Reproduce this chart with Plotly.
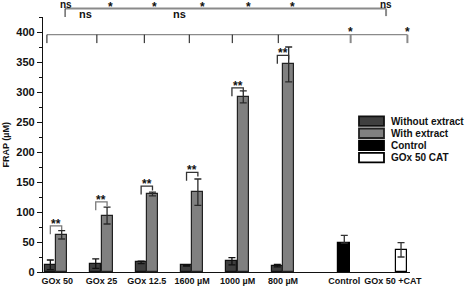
import plotly.graph_objects as go

# ---------------- data ----------------
groups = ["GOx 50", "GOx 25", "GOx 12.5", "1600 µM", "1000 µM", "800 µM"]
group_pos = [0, 1, 2, 3, 4, 5]
without_vals = [12, 14, 16, 11, 18, 10.5]
without_err = [8, 8, 2, 1, 6, 2]
with_vals = [62, 94, 130, 133, 292, 346]
with_err = [7, 14, 3, 22, 10, 29]
control_pos = [6.35]
control_vals = [48]
control_err = [13]
cat_pos = [7.6]
cat_vals = [37]
cat_err = [12]
tick_pos = [0.03, 1, 2, 3, 4, 5, 6.35, 7.42]
tick_text = ["GOx 50", "GOx 25", "GOx 12.5", "1600 µM", "1000 µM", "800 µM",
             "Control", "GOx 50 +CAT"]
legend_names = ["Without extract", "With extract", "Control", "GOx 50 CAT"]

# pairwise (without vs with) significance bracket heights
pair_sig_y = [77, 117, 143, 166, 307, 361]
pair_sig_colors = ["#7a7a7a", "#7a7a7a", "#333333", "#333333", "#333333", "#333333"]

# top comparison lines
lineA_y = 439
lineA_x = [0.2, 7.27]
lineA_labels = ["ns", "*", "*", "*", "*", "*", "ns"]
lineA_label_x = [0.23, 1.19, 2.16, 3.22, 4.23, 5.2, 7.27]
lineA_sub_labels = ["ns", "ns"]
lineA_sub_x = [0.66, 2.73]
lineB_y = 395.5
lineB_ticks = [-0.2, 0.9, 1.945, 2.936, 3.883, 4.896, 6.49, 7.74]
lineB_labels = ["*", "*"]
lineB_label_x = [6.49, 7.74]

# ---------------- style ----------------
Y_MAX = 425
BW = 0.242
OFF = 0.125
FONT = "Liberation Sans, Arial, sans-serif"
DARK = "#3f3f3f"
GRAY = "#808080"

L, R, T, B = 43, 55, 17, 17
W, H = 465, 289
PW = W - L - R
PH = H - T - B
X0 = -13 / 45.4
X1 = X0 + PW / 45.4


def px_x(px):
    return (px - L) / PW


def px_y(py):
    return (H - B - py) / PH


fig = go.Figure()

fig.add_trace(go.Bar(
    x=[p - OFF for p in group_pos], y=without_vals, width=BW,
    marker=dict(color=DARK, line=dict(color="#111111", width=1.2)),
    error_y=dict(type="data", array=without_err, color="#111111", thickness=1.3, width=3.5),
    showlegend=False))
fig.add_trace(go.Bar(
    x=[p + OFF for p in group_pos], y=with_vals, width=BW,
    marker=dict(color=GRAY, line=dict(color="#222222", width=1.2)),
    error_y=dict(type="data", array=with_err, color="#2a2a2a", thickness=1.3, width=3.5),
    showlegend=False))
fig.add_trace(go.Bar(
    x=control_pos, y=control_vals, width=BW * 1.1,
    marker=dict(color="#000000", line=dict(color="#000000", width=1.2)),
    error_y=dict(type="data", array=control_err, arrayminus=[0], symmetric=False,
                 color="#333333", thickness=1.3, width=3.5),
    showlegend=False))
fig.add_trace(go.Bar(
    x=cat_pos, y=cat_vals, width=BW,
    marker=dict(color="#ffffff", line=dict(color="#000000", width=1.2)),
    error_y=dict(type="data", array=cat_err, color="#333333", thickness=1.3, width=3.5),
    showlegend=False))

shapes = []
annotations = []

# pair brackets
for p, yv, col in zip(group_pos, pair_sig_y, pair_sig_colors):
    xl = p - OFF
    xr = p + OFF
    shapes.append(dict(type="path", xref="x", yref="y",
                       path=f"M {xl},{yv-14} L {xl},{yv} L {xr},{yv} L {xr},{yv-7}",
                       line=dict(color=col, width=1.3)))
    annotations.append(dict(x=(xl + xr) / 2, y=yv + 3.5, xref="x", yref="y",
                            text="**", showarrow=False, yanchor="middle",
                            font=dict(family=FONT, size=12, color="#111111", weight="bold")))

# line A (above plot)
ya = lineA_y / Y_MAX
shapes.append(dict(type="line", xref="x", yref="paper", x0=lineA_x[0], x1=lineA_x[1],
                   y0=ya, y1=ya, line=dict(color="#8a8a8a", width=2)))
shapes.append(dict(type="line", xref="x", yref="paper", x0=lineA_x[0], x1=lineA_x[0],
                   y0=ya, y1=425 / Y_MAX, line=dict(color="#222222", width=1)))
shapes.append(dict(type="line", xref="x", yref="paper", x0=lineA_x[1], x1=lineA_x[1],
                   y0=ya, y1=426.5 / Y_MAX, line=dict(color="#8a8a8a", width=2)))
for t, x in zip(lineA_labels, lineA_label_x):
    yv = 445.5 if t == "ns" else 442
    annotations.append(dict(x=x, y=yv / Y_MAX, xref="x", yref="paper", text=t,
                            showarrow=False, yanchor="middle",
                            font=dict(family=FONT, size=10 if t == "ns" else 12,
                                      color="#111111", weight="bold")))
for t, x in zip(lineA_sub_labels, lineA_sub_x):
    annotations.append(dict(x=x, y=430.5 / Y_MAX, xref="x", yref="paper", text=t,
                            showarrow=False, yanchor="middle",
                            font=dict(family=FONT, size=11, color="#111111", weight="bold")))

# line B
shapes.append(dict(type="line", xref="x", yref="y", x0=lineB_ticks[0], x1=lineB_ticks[-1],
                   y0=lineB_y, y1=lineB_y, line=dict(color="#8a8a8a", width=1.3)))
for i, x in enumerate(lineB_ticks):
    last = i >= len(lineB_ticks) - 2
    shapes.append(dict(type="line", xref="x", yref="y", x0=x, x1=x,
                       y0=lineB_y, y1=lineB_y - 14,
                       line=dict(color="#8a8a8a" if last else "#111111",
                                 width=2 if last else 1)))
for t, x in zip(lineB_labels, lineB_label_x):
    annotations.append(dict(x=x, y=399.5 / Y_MAX, xref="x", yref="paper", text=t,
                            showarrow=False, yanchor="middle",
                            font=dict(family=FONT, size=12, color="#111111", weight="bold")))

# y title
annotations.append(dict(x=px_x(5), y=0.5, xref="paper", yref="paper", text="FRAP (µM)",
                        textangle=-90, showarrow=False, xanchor="center", yanchor="middle",
                        font=dict(family=FONT, size=9, color="#111111", weight="bold")))

# custom legend
legend_fill = [DARK, GRAY, "#000000", "#ffffff"]
legend_line = ["#111111", "#222222", "#000000", "#000000"]
for i, (name, fc, lc) in enumerate(zip(legend_names, legend_fill, legend_line)):
    top = 116.3 + i * 12.2
    shapes.append(dict(type="rect", xref="paper", yref="paper",
                       x0=px_x(359), x1=px_x(384), y0=px_y(top), y1=px_y(top + 9.5),
                       fillcolor=fc, line=dict(color=lc, width=1.8)))
    annotations.append(dict(x=px_x(388.5), y=px_y(top + 4.8), xref="paper", yref="paper",
                            text=name, showarrow=False, xanchor="left", yanchor="middle",
                            font=dict(family=FONT, size=10, color="#111111", weight="bold")))

fig.update_layout(
    width=W, height=H,
    margin=dict(l=L, r=R, t=T, b=B),
    paper_bgcolor="white", plot_bgcolor="white",
    barmode="overlay", bargap=0,
    shapes=shapes, annotations=annotations,
    showlegend=False,
    xaxis=dict(range=[X0, X1], tickvals=tick_pos, ticktext=tick_text,
               showgrid=False, zeroline=False, showline=True, linecolor="#111111",
               linewidth=1.2, ticks="", ticklen=0, automargin=False,
               tickfont=dict(family=FONT, size=9, color="#111111", weight="bold")),
    yaxis=dict(range=[0, Y_MAX], tickvals=[0, 50, 100, 150, 200, 250, 300, 350, 400],
               showgrid=False, zeroline=False, showline=True, linecolor="#111111",
               linewidth=1.2, ticks="outside", ticklen=5, tickwidth=1.2, tickcolor="#111111",
               minor=dict(tickvals=[25, 75, 125, 175, 225, 275, 325, 375, 425],
                          ticks="outside", ticklen=3, tickwidth=1, tickcolor="#111111"),
               automargin=False,
               tickfont=dict(family=FONT, size=11, color="#111111", weight="bold")),
)

fig.write_html("out.html", config={"displayModeBar": False},
               post_script="document.body.style.margin='0';document.body.style.overflow='hidden';")
